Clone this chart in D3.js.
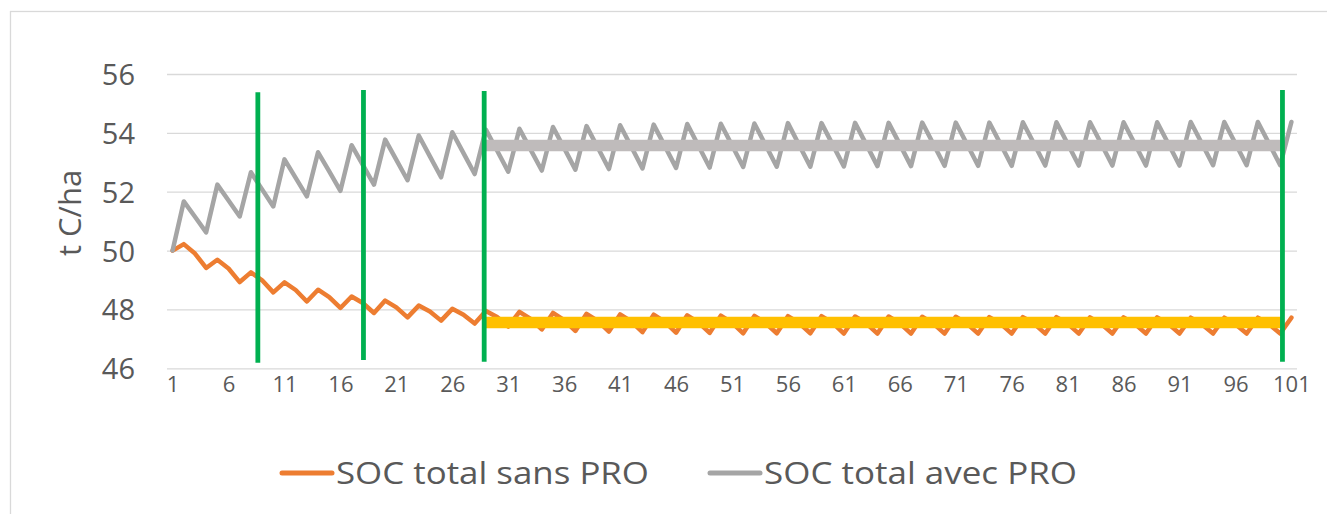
<!DOCTYPE html>
<html>
<head>
<meta charset="utf-8">
<script src="https://cdn.jsdelivr.net/npm/d3@7"></script>
<style>
  html, body { margin: 0; padding: 0; background: #fff; }
  svg { display: block; font-family: "Open Sans", "DejaVu Sans", sans-serif; }
</style>
</head>
<body>
<svg id="chart" width="1327" height="514"></svg>
<script>
// ---- Data ----
const years = d3.range(1, 102);
const xTickLabels = [1, 6, 11, 16, 21, 26, 31, 36, 41, 46, 51, 56, 61, 66, 71, 76, 81, 86, 91, 96, 101];
const yTickLabels = [46, 48, 50, 52, 54, 56];
const seriesNames = ["SOC total sans PRO", "SOC total avec PRO"];

const socSansPRO = [
  50.00, 50.22, 49.90, 49.41, 49.69, 49.39, 48.93, 49.26, 48.99, 48.58,
  48.92, 48.66, 48.27, 48.67, 48.42, 48.05, 48.44, 48.22, 47.88, 48.30,
  48.07, 47.73, 48.13, 47.93, 47.62, 48.02, 47.82, 47.52, 47.95, 47.74,
  47.42, 47.92, 47.68, 47.32, 47.88, 47.64, 47.27, 47.85, 47.61, 47.25,
  47.83, 47.59, 47.23, 47.82, 47.58, 47.21, 47.80, 47.56, 47.20, 47.79,
  47.55, 47.19, 47.78, 47.54, 47.19, 47.77, 47.54, 47.19, 47.77, 47.54,
  47.18, 47.76, 47.53, 47.18, 47.76, 47.53, 47.18, 47.75, 47.52, 47.18,
  47.75, 47.52, 47.18, 47.74, 47.52, 47.18, 47.74, 47.52, 47.18, 47.74,
  47.52, 47.18, 47.73, 47.51, 47.18, 47.73, 47.51, 47.18, 47.73, 47.51,
  47.18, 47.72, 47.50, 47.18, 47.72, 47.50, 47.18, 47.72, 47.50, 47.18,
  47.72
];

const socAvecPRO = [
  50.00, 51.67, 51.15, 50.62, 52.24, 51.70, 51.16, 52.66, 52.08, 51.50,
  53.10, 52.47, 51.84, 53.34, 52.69, 52.03, 53.58, 52.91, 52.24, 53.77,
  53.08, 52.39, 53.91, 53.20, 52.49, 54.02, 53.31, 52.60, 54.11, 53.40,
  52.68, 54.14, 53.43, 52.72, 54.20, 53.48, 52.75, 54.23, 53.50, 52.77,
  54.26, 53.53, 52.79, 54.28, 53.55, 52.81, 54.30, 53.56, 52.82, 54.31,
  53.58, 52.84, 54.32, 53.59, 52.85, 54.33, 53.59, 52.85, 54.33, 53.60,
  52.86, 54.34, 53.61, 52.87, 54.34, 53.61, 52.87, 54.35, 53.62, 52.88,
  54.35, 53.62, 52.88, 54.35, 53.62, 52.88, 54.36, 53.63, 52.89, 54.36,
  53.63, 52.89, 54.36, 53.63, 52.89, 54.36, 53.63, 52.89, 54.36, 53.63,
  52.89, 54.37, 53.64, 52.90, 54.37, 53.64, 52.90, 54.37, 53.64, 52.90,
  54.37
];

// Annotation shapes (in data units): average levels and period markers
const avgLevels = [47.56, 53.57];          // sans PRO (yellow), avec PRO (light gray)
const avgSpan = [28.85, 100.2];            // category-unit extent of both average bars
const markerYears = [8.62, 18.06, 28.85, 100.2];
const markerTop = [55.38, 55.46, 55.42, 55.46];
const markerBottom = [46.19, 46.28, 46.22, 46.22];

// ---- Layout ----
const svg = d3.select("#chart");
const plot = { left: 167, right: 1297, top: 74, bottom: 368.3 };
const textColor = "#595959";
const gridColor = "#D9D9D9";

const x = d3.scaleLinear().domain([0.5, 101.5]).range([plot.left, plot.right]);
const y = d3.scaleLinear().domain([46, 56]).range([plot.bottom, plot.top]);

// chart border
svg.append("rect")
  .attr("x", 10.5).attr("y", 11.5)
  .attr("width", 1400).attr("height", 600)
  .attr("fill", "none").attr("stroke", gridColor).attr("stroke-width", 1.3);

// gridlines + y labels
const yAxis = d3.axisLeft(y).tickValues(yTickLabels).tickSize(-(plot.right - plot.left)).tickPadding(32).tickFormat(d3.format("d"));
const gy = svg.append("g").attr("transform", `translate(${plot.left},0)`).call(yAxis);
gy.select(".domain").remove();
gy.selectAll(".tick line").attr("stroke", gridColor).attr("stroke-width", 1.3);
gy.selectAll(".tick text")
  .attr("fill", textColor).attr("font-size", 29).attr("font-family", "Open Sans")
  .attr("dy", "0.36em");

// x axis labels
const xAxis = d3.axisBottom(x).tickValues(xTickLabels).tickSize(0).tickPadding(0).tickFormat(d3.format("d"));
const gx = svg.append("g").attr("transform", `translate(0,${plot.bottom})`).call(xAxis);
gx.select(".domain").remove();
gx.selectAll(".tick text")
  .attr("fill", textColor).attr("font-size", 22).attr("font-family", "Open Sans")
  .attr("y", 24).attr("dy", 0);

// y axis title
svg.append("text")
  .attr("transform", `translate(81,${213}) rotate(-90)`)
  .attr("text-anchor", "middle")
  .attr("fill", textColor).attr("font-size", 31)
  .text("t C/ha");

// series lines
const line = d3.line().x((d, i) => x(years[i])).y(d => y(d));
svg.append("path").datum(socSansPRO).attr("d", line)
  .attr("fill", "none").attr("stroke", "#ED7D31").attr("stroke-width", 4.5)
  .attr("stroke-linejoin", "round").attr("stroke-linecap", "round");
svg.append("path").datum(socAvecPRO).attr("d", line)
  .attr("fill", "none").attr("stroke", "#A5A5A5").attr("stroke-width", 4.5)
  .attr("stroke-linejoin", "round").attr("stroke-linecap", "round");

// average bars
const barColors = ["#FFC000", "#BFBBBB"];
svg.selectAll("line.avg").data(avgLevels).enter().append("line")
  .attr("class", "avg")
  .attr("x1", x(avgSpan[0])).attr("x2", x(avgSpan[1]))
  .attr("y1", d => y(d)).attr("y2", d => y(d))
  .attr("stroke", (d, i) => barColors[i]).attr("stroke-width", 11.5);

// period markers
svg.selectAll("line.marker").data(markerYears).enter().append("line")
  .attr("class", "marker")
  .attr("x1", d => x(d)).attr("x2", d => x(d))
  .attr("y1", (d, i) => y(markerTop[i])).attr("y2", (d, i) => y(markerBottom[i]))
  .attr("stroke", "#00B050").attr("stroke-width", 4.8);

// legend
const legendItems = [
  { name: seriesNames[0], color: "#ED7D31", x0: 282 },
  { name: seriesNames[1], color: "#A5A5A5", x0: 710 }
];
const lg = svg.append("g");
legendItems.forEach(it => {
  lg.append("line").attr("x1", it.x0).attr("x2", it.x0 + 50)
    .attr("y1", 473).attr("y2", 473)
    .attr("stroke", it.color).attr("stroke-width", 5).attr("stroke-linecap", "round");
  lg.append("text").attr("x", it.x0 + 54).attr("y", 473)
    .attr("dy", "0.36em").attr("fill", textColor).attr("font-size", 31)
    .attr("textLength", 313).attr("lengthAdjust", "spacingAndGlyphs")
    .text(it.name);
});
</script>
</body>
</html>
